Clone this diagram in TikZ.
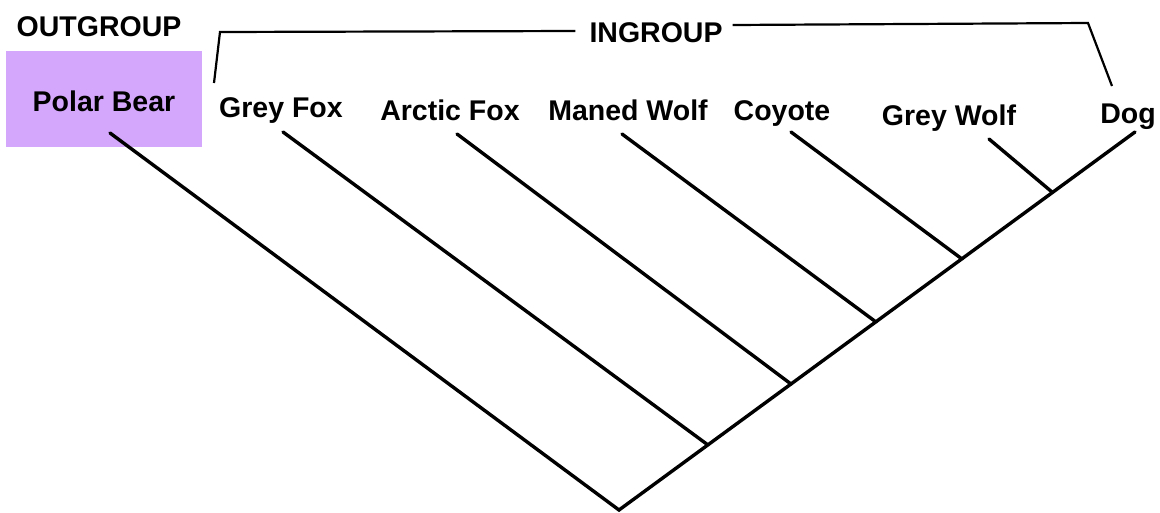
\documentclass[tikz,border=0pt]{standalone}
\usepackage{fontspec}
\setmainfont{Liberation Sans}
\begin{document}
\begin{tikzpicture}[x=1pt,y=-1pt,
  lbl/.style={font=\fontsize{28.5}{30}\selectfont\bfseries, inner sep=0pt, anchor=base},
  branch/.style={line width=3.4pt, line cap=round},
  brack/.style={line width=2.2pt}]
\useasboundingbox (0,0) rectangle (1160,512);
\fill[white] (0,0) rectangle (1160,512);

% outgroup box
\node[fill={rgb,255:red,212;green,166;blue,252}, minimum width=196pt, minimum height=96pt,
      inner sep=0pt] (box) at (104,99) {};

% labels
\node[lbl] (out) at (99,36) {OUTGROUP};
\node[lbl] (in)  at (656,42) {INGROUP};
\node[lbl] (pb) at (104,111) {Polar Bear};
\node[lbl] (gf) at (281,117) {Grey Fox};
\node[lbl] (af) at (450,120) {Arctic Fox};
\node[lbl] (mw) at (628,120) {Maned Wolf};
\node[lbl] (co) at (782,120) {Coyote};
\node[lbl] (gw) at (949,125) {Grey Wolf};
\node[lbl] (dg) at (1128,123) {Dog};

% branch tips
\coordinate (tpb) at (110,133);
\coordinate (tgf) at (283,132);
\coordinate (taf) at (457,134);
\coordinate (tmw) at (622,134);
\coordinate (tco) at (791,132);
\coordinate (tgw) at (989,139);
\coordinate (tdg) at (1135,132);

% internal nodes
\coordinate (root) at (619,510);
\coordinate (n1) at (708,445);
\coordinate (n2) at (791,384);
\coordinate (n3) at (876,322);
\coordinate (n4) at (962,259);
\coordinate (n5) at (1052,192);

% tree
\draw[branch] (tpb) -- (root) -- (tdg);
\draw[branch] (tgf) -- (n1);
\draw[branch] (taf) -- (n2);
\draw[branch] (tmw) -- (n3);
\draw[branch] (tco) -- (n4);
\draw[branch] (tgw) -- (n5);

% ingroup bracket
\coordinate (bl0) at (214,83);
\coordinate (bl1) at (220,32);
\coordinate (br1) at (1088,23);
\coordinate (br0) at (1112,86);
\draw[brack] (bl0) -- (bl1) -- ([xshift=-14pt]in.west |- 0,31);
\draw[brack] ([xshift=10pt]in.east |- 0,25) -- (br1) -- (br0);
\end{tikzpicture}
\end{document}
